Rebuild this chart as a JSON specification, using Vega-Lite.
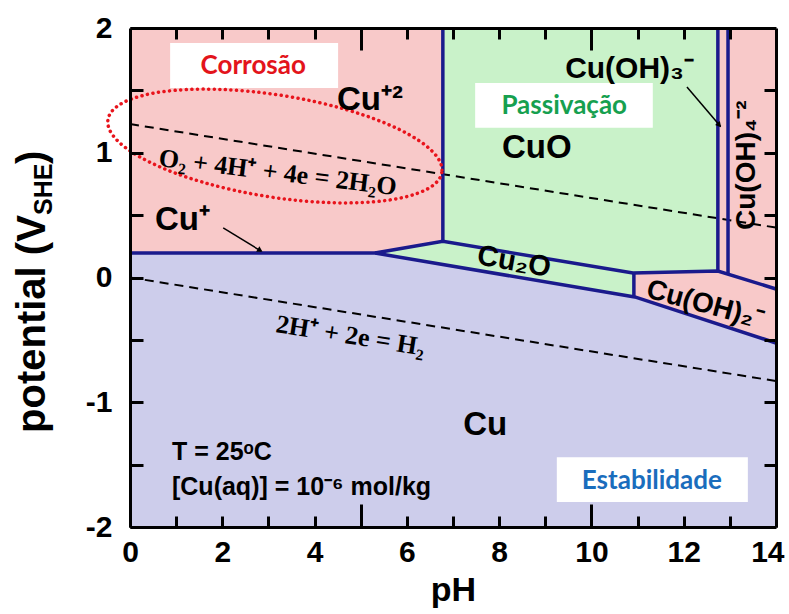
{
"$schema": "https://vega.github.io/schema/vega-lite/v6.json",
"width": 646, "height": 499,
"autosize": {"type": "none"},
"padding": {"left": 130, "top": 28, "right": 13, "bottom": 87},
"background": "white",
"config": {"view": {"stroke": null, "fill": "#f8c9c9"}, "font": "Liberation Sans"},
"resolve": {"axis": {"x": "independent", "y": "independent"}},
"datasets": {
 "cu": [{"pH": 0, "E": 0.196}, {"pH": 5.31, "E": 0.196}, {"pH": 10.94, "E": -0.156}, {"pH": 14, "E": -0.525}],
 "cuo": [{"pH": 6.78, "E": 0.29}, {"pH": 10.9, "E": 0.036}, {"pH": 12.74, "E": 0.052}],
 "cu2o": [{"pH": 5.31, "lo": 0.196, "hi": 0.196}, {"pH": 6.78, "lo": 0.104, "hi": 0.29}, {"pH": 10.92, "lo": -0.155, "hi": 0.036}],
 "boxes": [
  {"label": "Corrosão", "x1": 0.87, "x2": 4.51, "y1": 1.52, "y2": 1.88, "cx": 2.67, "cy": 1.695},
  {"label": "Passivação", "x1": 7.48, "x2": 11.33, "y1": 1.2, "y2": 1.56, "cx": 9.41, "cy": 1.375},
  {"label": "Estabilidade", "x1": 9.25, "x2": 13.39, "y1": -1.8, "y2": -1.44, "cx": 11.31, "cy": -1.63}
 ],
 "bounds": [
  {"seg": "A", "i": 1, "pH": 0, "E": 0.196}, {"seg": "A", "i": 2, "pH": 5.31, "E": 0.196}, {"seg": "A", "i": 3, "pH": 10.94, "E": -0.156}, {"seg": "A", "i": 4, "pH": 14, "E": -0.525},
  {"seg": "B", "i": 1, "pH": 5.31, "E": 0.196}, {"seg": "B", "i": 2, "pH": 6.78, "E": 0.29}, {"seg": "B", "i": 3, "pH": 10.9, "E": 0.036}, {"seg": "B", "i": 4, "pH": 12.74, "E": 0.052}, {"seg": "B", "i": 5, "pH": 14, "E": -0.092},
  {"seg": "C", "i": 1, "pH": 6.78, "E": 0.29}, {"seg": "C", "i": 2, "pH": 6.78, "E": 2},
  {"seg": "D", "i": 1, "pH": 10.92, "E": 0.036}, {"seg": "D", "i": 2, "pH": 10.92, "E": -0.155},
  {"seg": "E", "i": 1, "pH": 12.74, "E": 0.052}, {"seg": "E", "i": 2, "pH": 12.74, "E": 2},
  {"seg": "F", "i": 1, "pH": 12.96, "E": 0.028}, {"seg": "F", "i": 2, "pH": 12.96, "E": 2}
 ],
 "water": [
  {"line": "O2", "pH": 0, "E": 1.23}, {"line": "O2", "pH": 14, "E": 0.4},
  {"line": "H2", "pH": 0, "E": 0}, {"line": "H2", "pH": 14, "E": -0.83}
 ],
 "arrows": [
  {"id": "a1", "i": 1, "pH": 2.02, "E": 0.397}, {"id": "a1", "i": 2, "pH": 2.84, "E": 0.212},
  {"id": "a2", "i": 1, "pH": 12.07, "E": 1.527}, {"id": "a2", "i": 2, "pH": 12.8, "E": 1.21}
 ]
},
"layer": [
 {"data": {"name": "cu"}, "mark": {"type": "area", "color": "#cdcdeb"},
  "encoding": {
   "x": {"field": "pH", "type": "quantitative", "scale": {"domain": [0, 14], "nice": false, "zero": false},
    "axis": {"orient": "bottom", "values": [0,1,2,3,4,5,6,7,8,9,10,11,12,13,14], "labelExpr": "datum.value % 2 == 0 ? '' + datum.value : ''",
     "labelFontSize": 30, "labelFontWeight": "bold", "labelColor": "black", "labelFont": "Liberation Sans", "labelOverlap": false, "labelFlush": false,
     "labelPadding": {"condition": {"test": "datum.value == 5 || datum.value == 10", "value": 33}, "value": 21},
     "labelAlign": {"condition": {"test": "datum.value == 14", "value": "right"}, "value": "center"},
     "labelOffset": {"condition": {"test": "datum.value == 14", "value": 8}, "value": 0},
     "tickSize": {"condition": {"test": "datum.value == 5 || datum.value == 10", "value": -23}, "value": -11},
     "tickWidth": 3, "tickColor": "black", "domainColor": "black", "domainWidth": 3, "grid": false,
     "title": "pH", "titleFontSize": 34, "titleFontWeight": "bold", "titleColor": "black", "titleFont": "Liberation Sans", "titlePadding": 6, "zindex": 3}},
   "y": {"field": "E", "type": "quantitative", "scale": {"domain": [-2, 2], "nice": false, "zero": false},
    "axis": {"orient": "left", "values": [-2,-1.5,-1,-0.5,0,0.5,1,1.5,2], "labelExpr": "datum.value % 1 == 0 ? '' + datum.value : ''",
     "labelFontSize": 30, "labelFontWeight": "bold", "labelColor": "black", "labelFont": "Liberation Sans", "labelPadding": 31, "labelOverlap": false, "labelFlush": false,
     "tickSize": -13, "tickWidth": 3, "tickColor": "black", "domainColor": "black", "domainWidth": 3, "grid": false, "title": null, "zindex": 3}},
   "y2": {"datum": -2}
  }},
 {"data": {"name": "cuo"}, "mark": {"type": "area", "color": "#c9f2c9"},
  "encoding": {
   "x": {"field": "pH", "type": "quantitative", "scale": {"domain": [0, 14], "nice": false, "zero": false},
    "axis": {"orient": "top", "values": [1,2,3,4,5,6,7,8,9,10,11,12,13], "labels": false,
     "tickSize": {"condition": {"test": "datum.value == 5 || datum.value == 10", "value": -22}, "value": -11},
     "tickWidth": 3, "tickColor": "black", "domainColor": "black", "domainWidth": 3, "grid": false, "title": null, "zindex": 3}},
   "y": {"field": "E", "type": "quantitative", "scale": {"domain": [-2, 2], "nice": false, "zero": false},
    "axis": {"orient": "right", "values": [-1.5,-1,-0.5,0,0.5,1,1.5], "labels": false, "tickSize": -12, "tickWidth": 3, "tickColor": "black", "domainColor": "black", "domainWidth": 3, "grid": false, "title": null, "zindex": 3}},
   "y2": {"datum": 2}
  }},
 {"data": {"name": "cu2o"}, "mark": {"type": "area", "color": "#c9f2c9"},
  "encoding": {
   "x": {"field": "pH", "type": "quantitative", "scale": {"domain": [0, 14], "nice": false, "zero": false}, "axis": null},
   "y": {"field": "lo", "type": "quantitative", "scale": {"domain": [-2, 2], "nice": false, "zero": false}, "axis": null},
   "y2": {"field": "hi"}
  }},
 {"data": {"name": "boxes"}, "mark": {"type": "rect", "color": "white"},
  "encoding": {
   "x": {"field": "x1", "type": "quantitative", "scale": {"domain": [0, 14], "nice": false, "zero": false}, "axis": null},
   "x2": {"field": "x2"},
   "y": {"field": "y1", "type": "quantitative", "scale": {"domain": [-2, 2], "nice": false, "zero": false}, "axis": null},
   "y2": {"field": "y2"}
  }},
 {"mark": {"type": "rule", "color": "#3a3a3a", "strokeWidth": 1},
  "encoding": {"x": {"datum": 7, "axis": null}}},
 {"data": {"name": "water"}, "mark": {"type": "line", "color": "black", "strokeWidth": 2, "strokeDash": [9, 6]},
  "encoding": {
   "x": {"field": "pH", "type": "quantitative", "scale": {"domain": [0, 14], "nice": false, "zero": false}, "axis": null},
   "y": {"field": "E", "type": "quantitative", "scale": {"domain": [-2, 2], "nice": false, "zero": false}, "axis": null},
   "detail": {"field": "line"}
  }},
 {"data": {"name": "bounds"}, "mark": {"type": "line", "color": "#1a1a8c", "strokeWidth": 3.5, "strokeJoin": "miter"},
  "encoding": {
   "x": {"field": "pH", "type": "quantitative", "scale": {"domain": [0, 14], "nice": false, "zero": false}, "axis": null},
   "y": {"field": "E", "type": "quantitative", "scale": {"domain": [-2, 2], "nice": false, "zero": false}, "axis": null},
   "detail": {"field": "seg"},
   "order": {"field": "i"}
  }},
 {"data": {"values": [{"pH": 3.14, "E": 1.054}]},
  "mark": {"type": "point", "shape": "M 1 0 C 1 0.1657 0.5523 0.302 0 0.302 C -0.5523 0.302 -1 0.1657 -1 0 C -1 -0.1657 -0.5523 -0.302 0 -0.302 C 0.5523 -0.302 1 -0.1657 1 0 Z",
   "size": 114244, "angle": 9, "filled": false, "fill": null, "stroke": "#e8141c", "strokeWidth": 3.5, "strokeDash": [0.1, 5.5], "strokeCap": "round", "opacity": 1},
  "encoding": {
   "x": {"field": "pH", "type": "quantitative", "scale": {"domain": [0, 14], "nice": false, "zero": false}, "axis": null},
   "y": {"field": "E", "type": "quantitative", "scale": {"domain": [-2, 2], "nice": false, "zero": false}, "axis": null}
  }},
 {"data": {"name": "arrows"}, "mark": {"type": "line", "color": "black", "strokeWidth": 1.5},
  "encoding": {
   "x": {"field": "pH", "type": "quantitative", "scale": {"domain": [0, 14], "nice": false, "zero": false}, "axis": null},
   "y": {"field": "E", "type": "quantitative", "scale": {"domain": [-2, 2], "nice": false, "zero": false}, "axis": null},
   "detail": {"field": "id"},
   "order": {"field": "i"}
  }},
 {"data": {"values": [{"pH": 2.82, "E": 0.217}]},
  "mark": {"type": "point", "shape": "triangle-up", "size": 40, "angle": 121, "filled": true, "color": "black", "opacity": 1},
  "encoding": {
   "x": {"field": "pH", "type": "quantitative", "scale": {"domain": [0, 14], "nice": false, "zero": false}, "axis": null},
   "y": {"field": "E", "type": "quantitative", "scale": {"domain": [-2, 2], "nice": false, "zero": false}, "axis": null}
  }},
 {"data": {"values": [{"pH": 12.77, "E": 1.222}]},
  "mark": {"type": "point", "shape": "triangle-up", "size": 40, "angle": 140, "filled": true, "color": "black", "opacity": 1},
  "encoding": {
   "x": {"field": "pH", "type": "quantitative", "scale": {"domain": [0, 14], "nice": false, "zero": false}, "axis": null},
   "y": {"field": "E", "type": "quantitative", "scale": {"domain": [-2, 2], "nice": false, "zero": false}, "axis": null}
  }},
 {"data": {"name": "boxes"},
  "mark": {"type": "text", "font": "Lato", "fontWeight": "bold", "fontSize": 26, "align": "center", "baseline": "middle"},
  "encoding": {
   "x": {"field": "cx", "type": "quantitative", "scale": {"domain": [0, 14], "nice": false, "zero": false}, "axis": null},
   "y": {"field": "cy", "type": "quantitative", "scale": {"domain": [-2, 2], "nice": false, "zero": false}, "axis": null},
   "text": {"field": "label"},
   "color": {"field": "label", "type": "nominal", "scale": {"domain": ["Corrosão", "Passivação", "Estabilidade"], "range": ["#e3141b", "#16a04f", "#1a6dbd"]}, "legend": null}
  }},
 {"data": {"values": [
   {"t": "Cu⁺²", "pH": 4.486, "E": 1.343},
   {"t": "Cu⁺", "pH": 0.542, "E": 0.381},
   {"t": "CuO", "pH": 8.06, "E": 0.958},
   {"t": "Cu", "pH": 7.22, "E": -1.263}
  ]},
  "mark": {"type": "text", "font": "Liberation Sans", "fontWeight": "bold", "fontSize": 33, "align": "left", "baseline": "alphabetic", "color": "black"},
  "encoding": {
   "x": {"field": "pH", "type": "quantitative", "scale": {"domain": [0, 14], "nice": false, "zero": false}, "axis": null},
   "y": {"field": "E", "type": "quantitative", "scale": {"domain": [-2, 2], "nice": false, "zero": false}, "axis": null},
   "text": {"field": "t"}
  }},
 {"data": {"values": [{"t": "Cu(OH)₃⁻", "pH": 9.43, "E": 1.6}]},
  "mark": {"type": "text", "font": "Liberation Sans", "fontWeight": "bold", "fontSize": 30, "align": "left", "baseline": "alphabetic", "color": "black"},
  "encoding": {
   "x": {"field": "pH", "type": "quantitative", "scale": {"domain": [0, 14], "nice": false, "zero": false}, "axis": null},
   "y": {"field": "E", "type": "quantitative", "scale": {"domain": [-2, 2], "nice": false, "zero": false}, "axis": null},
   "text": {"field": "t"}
  }},
 {"data": {"values": [{"t": "Cu₂O", "pH": 7.5, "E": 0.108}]},
  "mark": {"type": "text", "font": "Liberation Sans", "fontWeight": "bold", "fontSize": 29, "angle": 10, "align": "left", "baseline": "alphabetic", "color": "black"},
  "encoding": {
   "x": {"field": "pH", "type": "quantitative", "scale": {"domain": [0, 14], "nice": false, "zero": false}, "axis": null},
   "y": {"field": "E", "type": "quantitative", "scale": {"domain": [-2, 2], "nice": false, "zero": false}, "axis": null},
   "text": {"field": "t"}
  }},
 {"data": {"values": [{"t": "Cu(OH)₂⁻", "pH": 11.16, "E": -0.156}]},
  "mark": {"type": "text", "font": "Liberation Sans", "fontWeight": "bold", "fontSize": 28, "angle": 15, "align": "left", "baseline": "alphabetic", "color": "black"},
  "encoding": {
   "x": {"field": "pH", "type": "quantitative", "scale": {"domain": [0, 14], "nice": false, "zero": false}, "axis": null},
   "y": {"field": "E", "type": "quantitative", "scale": {"domain": [-2, 2], "nice": false, "zero": false}, "axis": null},
   "text": {"field": "t"}
  }},
 {"data": {"values": [{"t": "Cu(OH)₄⁻²", "pH": 13.55, "E": 0.381}]},
  "mark": {"type": "text", "font": "Liberation Sans", "fontWeight": "bold", "fontSize": 28, "angle": 270, "align": "left", "baseline": "alphabetic", "color": "black"},
  "encoding": {
   "x": {"field": "pH", "type": "quantitative", "scale": {"domain": [0, 14], "nice": false, "zero": false}, "axis": null},
   "y": {"field": "E", "type": "quantitative", "scale": {"domain": [-2, 2], "nice": false, "zero": false}, "axis": null},
   "text": {"field": "t"}
  }},
 {"data": {"values": [{"t": "O₂ + 4H⁺ + 4e = 2H₂O", "pH": 0.607, "E": 0.894}]},
  "mark": {"type": "text", "font": "Liberation Serif", "fontWeight": "bold", "fontSize": 26, "angle": 7, "align": "left", "baseline": "alphabetic", "color": "black"},
  "encoding": {
   "x": {"field": "pH", "type": "quantitative", "scale": {"domain": [0, 14], "nice": false, "zero": false}, "axis": null},
   "y": {"field": "E", "type": "quantitative", "scale": {"domain": [-2, 2], "nice": false, "zero": false}, "axis": null},
   "text": {"field": "t"}
  }},
 {"data": {"values": [{"t": "2H⁺ + 2e = H₂", "pH": 3.14, "E": -0.437}]},
  "mark": {"type": "text", "font": "Liberation Serif", "fontWeight": "bold", "fontSize": 26, "angle": 9, "align": "left", "baseline": "alphabetic", "color": "black"},
  "encoding": {
   "x": {"field": "pH", "type": "quantitative", "scale": {"domain": [0, 14], "nice": false, "zero": false}, "axis": null},
   "y": {"field": "E", "type": "quantitative", "scale": {"domain": [-2, 2], "nice": false, "zero": false}, "axis": null},
   "text": {"field": "t"}
  }},
 {"data": {"values": [
   {"t": "T = 25ᵒC", "pH": 0.91, "E": -1.463},
   {"t": "[Cu(aq)] = 10⁻⁶ mol/kg", "pH": 0.91, "E": -1.743}
  ]},
  "mark": {"type": "text", "font": "Liberation Sans", "fontWeight": "bold", "fontSize": 25, "align": "left", "baseline": "alphabetic", "color": "black"},
  "encoding": {
   "x": {"field": "pH", "type": "quantitative", "scale": {"domain": [0, 14], "nice": false, "zero": false}, "axis": null},
   "y": {"field": "E", "type": "quantitative", "scale": {"domain": [-2, 2], "nice": false, "zero": false}, "axis": null},
   "text": {"field": "t"}
  }},
 {"data": {"values": [
   {"t": "potential (V", "pH": -1.842, "E": -1.246},
   {"t": ")", "pH": -1.842, "E": 0.91}
  ]},
  "mark": {"type": "text", "font": "Liberation Sans", "fontWeight": "bold", "fontSize": 40, "angle": 270, "align": "left", "baseline": "alphabetic", "color": "black"},
  "encoding": {
   "x": {"field": "pH", "type": "quantitative", "scale": {"domain": [0, 14], "nice": false, "zero": false}, "axis": null},
   "y": {"field": "E", "type": "quantitative", "scale": {"domain": [-2, 2], "nice": false, "zero": false}, "axis": null},
   "text": {"field": "t"}
  }},
 {"data": {"values": [{"t": "SHE", "pH": -1.7, "E": 0.501}]},
  "mark": {"type": "text", "font": "Liberation Sans", "fontWeight": "bold", "fontSize": 25, "angle": 270, "align": "left", "baseline": "alphabetic", "color": "black"},
  "encoding": {
   "x": {"field": "pH", "type": "quantitative", "scale": {"domain": [0, 14], "nice": false, "zero": false}, "axis": null},
   "y": {"field": "E", "type": "quantitative", "scale": {"domain": [-2, 2], "nice": false, "zero": false}, "axis": null},
   "text": {"field": "t"}
  }}
]
}
